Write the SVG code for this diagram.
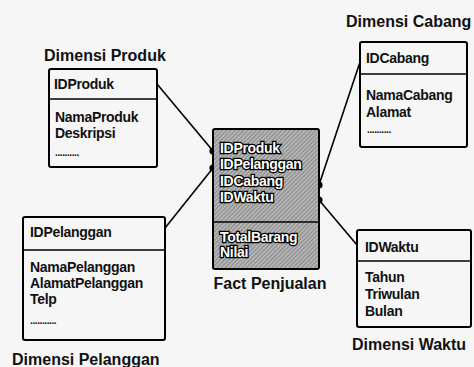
<svg xmlns="http://www.w3.org/2000/svg" width="474" height="367" viewBox="0 0 474 367">
<defs>
<pattern id="hatch" width="3" height="3" patternUnits="userSpaceOnUse" patternTransform="rotate(45)">
<rect width="3" height="3" fill="#b4b4b4"/>
<line x1="0" y1="0" x2="0" y2="3" stroke="#6e6e6e" stroke-width="1.2"/>
</pattern>
<style>
.box{fill:#f6f6f6;stroke:#000;stroke-width:2}
.sep{stroke:#000;stroke-width:1.6}
.title{font-family:"Liberation Sans",Arial,sans-serif;font-weight:bold;font-size:16px;fill:#111}
.f{font-family:"Liberation Sans",Arial,sans-serif;font-weight:bold;font-size:14px;fill:#111;letter-spacing:-0.3px}
.ff{font-family:"Liberation Sans",Arial,sans-serif;font-weight:bold;font-size:14px;fill:#fff;stroke:#000;stroke-width:2.6;paint-order:stroke;letter-spacing:-0.3px}
.dots{font-family:"Liberation Sans",Arial,sans-serif;font-weight:bold;font-size:10px;fill:#111;letter-spacing:-0.4px}
.con{stroke:#000;stroke-width:1.6;fill:none}
.dot{fill:#000}
</style>
</defs>
<rect width="474" height="367" fill="#f6f6f6"/>

<g id="connectors">
<line class="con" x1="157" y1="84" x2="213" y2="151"/>
<line class="con" x1="165" y1="228" x2="213" y2="168"/>
<line class="con" x1="360" y1="62" x2="319" y2="185"/>
<line class="con" x1="357" y1="245" x2="319" y2="200"/>
<circle class="dot" cx="213" cy="151" r="3.6"/>
<circle class="dot" cx="213" cy="168" r="3.6"/>
<circle class="dot" cx="319" cy="185" r="3.6"/>
<circle class="dot" cx="319" cy="200" r="3.6"/>
</g>

<g id="dimensi-produk">
<text class="title" x="44" y="61">Dimensi Produk</text>
<rect class="box" x="49" y="69" width="108" height="98" rx="2"/>
<line class="sep" x1="49" y1="99" x2="157" y2="99"/>
<text class="f" x="54" y="89">IDProduk</text>
<text class="f" x="55" y="122">NamaProduk</text>
<text class="f" x="55" y="138">Deskripsi</text>
<text class="dots" x="55" y="156">..........</text>
</g>

<g id="dimensi-cabang">
<text class="title" x="346" y="27">Dimensi Cabang</text>
<rect class="box" x="360" y="42" width="107" height="105" rx="2"/>
<line class="sep" x1="360" y1="74" x2="467" y2="74"/>
<text class="f" x="366" y="63">IDCabang</text>
<text class="f" x="366" y="100">NamaCabang</text>
<text class="f" x="366" y="117">Alamat</text>
<text class="dots" x="367" y="133">..........</text>
</g>

<g id="dimensi-pelanggan">
<rect class="box" x="23" y="217" width="142" height="123" rx="2"/>
<line class="sep" x1="23" y1="250" x2="165" y2="250"/>
<text class="f" x="30" y="237">IDPelanggan</text>
<text class="f" x="30" y="272">NamaPelanggan</text>
<text class="f" x="30" y="288">AlamatPelanggan</text>
<text class="f" x="30" y="304">Telp</text>
<text class="dots" x="30" y="324">...........</text>
<text class="title" x="12" y="365">Dimensi Pelanggan</text>
</g>

<g id="dimensi-waktu">
<rect class="box" x="357" y="230" width="114" height="97" rx="2"/>
<line class="sep" x1="357" y1="261" x2="471" y2="261"/>
<text class="f" x="365" y="252">IDWaktu</text>
<text class="f" x="365" y="282">Tahun</text>
<text class="f" x="365" y="299">Triwulan</text>
<text class="f" x="365" y="316">Bulan</text>
<text class="title" x="352" y="350">Dimensi Waktu</text>
</g>

<g id="fact-penjualan">
<rect x="213" y="129" width="106" height="140" rx="2" fill="url(#hatch)" stroke="#000" stroke-width="2"/>
<line class="sep" x1="213" y1="222" x2="319" y2="222"/>
<text class="ff" x="220" y="153">IDProduk</text>
<text class="ff" x="220" y="169">IDPelanggan</text>
<text class="ff" x="220" y="186">IDCabang</text>
<text class="ff" x="220" y="202">IDWaktu</text>
<text class="ff" x="220" y="242">TotalBarang</text>
<text class="ff" x="220" y="257">Nilai</text>
<text class="title" x="270" y="289" text-anchor="middle">Fact Penjualan</text>
</g>
</svg>
